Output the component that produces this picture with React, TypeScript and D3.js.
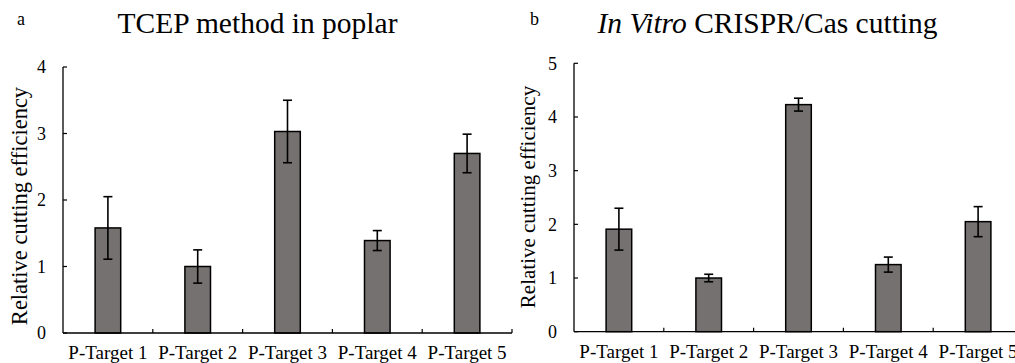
import React from "react";
import * as d3 from "d3";

const categories = ["P-Target 1", "P-Target 2", "P-Target 3", "P-Target 4", "P-Target 5"];
const tcepMeans = [1.58, 1.0, 3.03, 1.39, 2.7];
const tcepErrors = [0.47, 0.25, 0.47, 0.15, 0.29];
const vitroMeans = [1.91, 1.0, 4.23, 1.25, 2.05];
const vitroErrors = [0.39, 0.07, 0.12, 0.14, 0.28];
const tcepTicks = [0, 1, 2, 3, 4];
const vitroTicks = [0, 1, 2, 3, 4, 5];

const FONT = "'Liberation Serif', 'Times New Roman', serif";
const BAR = "#767171";

type PanelProps = {
  left: number;
  top: number;
  bottom: number;
  ticks: number[];
  means: number[];
  errors: number[];
  labelX: number;
  labelY: number;
  labelSize: number;
};

function Panel(p: PanelProps) {
  const step = 89.8;
  const x = d3
    .scaleBand()
    .domain(categories)
    .range([p.left, p.left + step * categories.length])
    .padding(0);
  const y = d3
    .scaleLinear()
    .domain([0, d3.max(p.ticks) as number])
    .range([p.bottom, p.top]);
  const bw = x.bandwidth() * 0.285;
  const right = p.left + step * categories.length;

  return (
    <g>
      {/* bars */}
      {categories.map((c, i) => {
        const cx = (x(c) as number) + x.bandwidth() / 2;
        return (
          <g key={c}>
            <rect
              x={cx - bw / 2}
              y={y(p.means[i])}
              width={bw}
              height={y(0) - y(p.means[i])}
              fill={BAR}
              stroke="#000"
              strokeWidth={1.5}
            />
            <line x1={cx} x2={cx} y1={y(p.means[i] + p.errors[i])} y2={y(p.means[i] - p.errors[i])} stroke="#000" strokeWidth={1.6} />
            <line x1={cx - 4.5} x2={cx + 4.5} y1={y(p.means[i] + p.errors[i])} y2={y(p.means[i] + p.errors[i])} stroke="#000" strokeWidth={1.6} />
            <line x1={cx - 4.5} x2={cx + 4.5} y1={y(p.means[i] - p.errors[i])} y2={y(p.means[i] - p.errors[i])} stroke="#000" strokeWidth={1.6} />
          </g>
        );
      })}
      {/* y axis */}
      <line x1={p.left} x2={p.left} y1={y(d3.max(p.ticks) as number)} y2={y(0)} stroke="#000" strokeWidth={1.3} />
      {p.ticks.map((t) => (
        <g key={t}>
          <line x1={p.left} x2={p.left + 4} y1={y(t)} y2={y(t)} stroke="#000" strokeWidth={1.2} />
          <text x={p.left - 17} y={y(t)} dy="0.35em" textAnchor="end" fontSize={18} fontFamily={FONT}>
            {t}
          </text>
        </g>
      ))}
      {/* x axis */}
      <line x1={p.left} x2={right} y1={y(0)} y2={y(0)} stroke="#000" strokeWidth={1.3} />
      {categories.map((c) => (
        <line
          key={c}
          x1={(x(c) as number) + x.bandwidth()}
          x2={(x(c) as number) + x.bandwidth()}
          y1={y(0)}
          y2={y(0) - 4}
          stroke="#000"
          strokeWidth={1.2}
        />
      ))}
      {categories.map((c) => (
        <text
          key={c}
          x={(x(c) as number) + x.bandwidth() / 2}
          y={p.bottom + 26}
          textAnchor="middle"
          fontSize={19}
          fontFamily={FONT}
        >
          {c}
        </text>
      ))}
      <text
        transform={`translate(${p.labelX},${p.labelY}) rotate(-90)`}
        textAnchor="middle"
        fontSize={p.labelSize}
        fontFamily={FONT}
      >
        Relative cutting efficiency
      </text>
    </g>
  );
}

export default function App() {
  return (
    <svg width={1015} height={363} style={{ position: "absolute", left: 0, top: 0, background: "#fff" }}>
      <text x={17} y={25} fontSize={18} fontFamily={FONT}>a</text>
      <text x={257.5} y={33} textAnchor="middle" fontSize={29.5} fontFamily={FONT}>
        TCEP method in poplar
      </text>
      <text x={530} y={25} fontSize={18} fontFamily={FONT}>b</text>
      <text x={767.5} y={33} textAnchor="middle" fontSize={29.5} fontFamily={FONT}>
        <tspan fontStyle="italic">In Vitro</tspan> CRISPR/Cas cutting
      </text>
      <Panel
        left={63}
        top={67}
        bottom={333}
        ticks={tcepTicks}
        means={tcepMeans}
        errors={tcepErrors}
        labelX={27}
        labelY={206}
        labelSize={22.5}
      />
      <Panel
        left={574}
        top={63.3}
        bottom={331.7}
        ticks={vitroTicks}
        means={vitroMeans}
        errors={vitroErrors}
        labelX={535}
        labelY={197}
        labelSize={21}
      />
    </svg>
  );
}
